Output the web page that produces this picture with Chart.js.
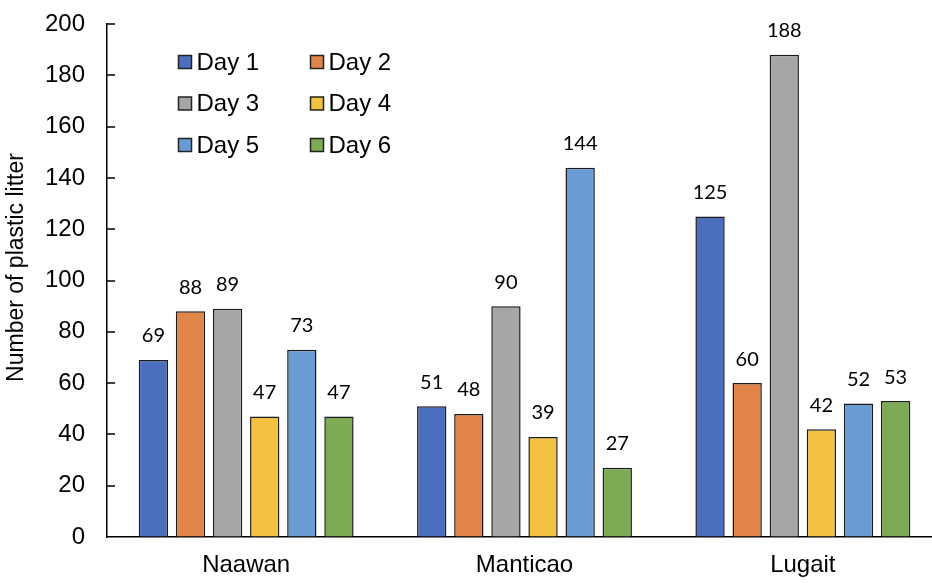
<!DOCTYPE html>
<html>
<head>
<meta charset="utf-8">
<script src="https://cdn.jsdelivr.net/npm/chart.js@4/dist/chart.umd.min.js"></script>
<style>
  html, body { margin: 0; padding: 0; background: #fff; overflow: hidden; }
  #wrap { width: 932px; height: 583px; overflow: hidden; }
  #c { display: block; }
</style>
</head>
<body>
<div id="wrap"><canvas id="c" width="942" height="583"></canvas></div>
<script>
// Sites surveyed and daily litter counts
const sites = ['Naawan', 'Manticao', 'Lugait'];
const day1 = [69, 51, 125];
const day2 = [88, 48, 60];
const day3 = [89, 90, 188];
const day4 = [47, 39, 42];
const day5 = [73, 144, 52];
const day6 = [47, 27, 53];
const dayNames = ['Day 1', 'Day 2', 'Day 3', 'Day 4', 'Day 5', 'Day 6'];
const dayColors = ['#4B6FBE', '#E0844A', '#A6A6A6', '#F4C242', '#6A9BD2', '#7DAB55'];
const yTicks = [0, 20, 40, 60, 80, 100, 120, 140, 160, 180, 200];
const yTitle = 'Number of plastic litter';

const series = [day1, day2, day3, day4, day5, day6];
const SANS = '"Liberation Sans", Arial, sans-serif';

// Value labels above each bar
const valueLabels = {
  id: 'valueLabels',
  afterDatasetsDraw(chart) {
    const ctx = chart.ctx;
    ctx.save();
    ctx.font = '20px Lato, "Open Sans", sans-serif';
    ctx.fillStyle = '#000';
    ctx.textAlign = 'center';
    ctx.textBaseline = 'middle';
    chart.data.datasets.forEach((ds, i) => {
      const meta = chart.getDatasetMeta(i);
      meta.data.forEach((bar, j) => {
        ctx.fillText(String(ds.data[j]), bar.x, bar.y - 24);
      });
    });
    ctx.restore();
  }
};

// Short tick marks on the value axis, pointing into the plot, plus the axis title
const valueAxisExtras = {
  id: 'valueAxisExtras',
  afterDraw(chart) {
    const y = chart.scales.y;
    const area = chart.chartArea;
    const ctx = chart.ctx;
    ctx.save();
    ctx.strokeStyle = '#000';
    ctx.lineWidth = 1.5;
    ctx.beginPath();
    y.ticks.forEach(t => {
      if (t.value === 0) return;
      const py = Math.round(y.getPixelForValue(t.value));
      ctx.moveTo(area.left, py);
      ctx.lineTo(area.left + 8, py);
    });
    ctx.stroke();

    ctx.translate(17, (area.top + area.bottom) / 2 - 13);
    ctx.rotate(-Math.PI / 2);
    ctx.font = '23px ' + SANS;
    ctx.fillStyle = '#000';
    ctx.textAlign = 'center';
    ctx.textBaseline = 'middle';
    ctx.fillText(yTitle, 0, 0);
    ctx.restore();
  }
};

// Two-column legend placed inside the plot
const insideLegend = {
  id: 'insideLegend',
  afterDraw(chart) {
    const ctx = chart.ctx;
    ctx.save();
    ctx.font = '24px ' + SANS;
    ctx.textBaseline = 'middle';
    ctx.textAlign = 'left';
    const x0 = 178.5, colGap = 132, y0 = 62, rowGap = 41.5, box = 13;
    chart.data.datasets.forEach((ds, i) => {
      const col = i % 2, row = Math.floor(i / 2);
      const x = x0 + col * colGap, y = y0 + row * rowGap;
      ctx.fillStyle = ds.backgroundColor;
      ctx.fillRect(x, y - box / 2, box, box);
      ctx.strokeStyle = '#222';
      ctx.lineWidth = 1.5;
      ctx.strokeRect(x, y - box / 2, box, box);
      ctx.fillStyle = '#000';
      ctx.fillText(ds.label, x + box + 5, y + 1);
    });
    ctx.restore();
  }
};

new Chart(document.getElementById('c'), {
  type: 'bar',
  data: {
    labels: sites,
    datasets: series.map((d, i) => ({
      label: dayNames[i],
      data: d,
      backgroundColor: dayColors[i],
      borderColor: '#1a1a1a',
      borderWidth: 1.5,
      barPercentage: 0.79,
      categoryPercentage: 0.80
    }))
  },
  options: {
    responsive: false,
    animation: false,
    layout: { padding: { top: 24, right: 0, bottom: 0, left: 0 } },
    plugins: {
      legend: { display: false },
      tooltip: { enabled: false }
    },
    scales: {
      x: {
        grid: { display: false, drawTicks: false },
        border: { color: '#000', width: 1.5 },
        ticks: {
          color: '#000',
          font: { family: SANS, size: 24 },
          padding: 14
        },
        afterFit(scale) { scale.height = 46; }
      },
      y: {
        min: 0,
        max: 200,
        afterBuildTicks(scale) { scale.ticks = yTicks.map(v => ({ value: v })); },
        grid: {
          display: true,
          drawOnChartArea: false,
          drawTicks: true,
          tickLength: 20,
          tickColor: 'rgba(0,0,0,0)'
        },
        border: { color: '#000', width: 1.5 },
        ticks: {
          color: '#000',
          font: { family: SANS, size: 24 },
          padding: 2
        },
        title: { display: false },
        afterFit(scale) { scale.width = 107; }
      }
    }
  },
  plugins: [valueLabels, valueAxisExtras, insideLegend]
});
</script>
</body>
</html>
